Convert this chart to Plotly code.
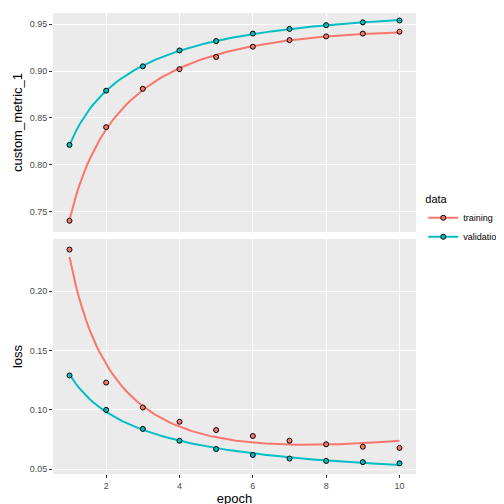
import numpy as np
import plotly.graph_objects as go

epoch = list(range(1, 11))
metric_train = [0.740, 0.840, 0.881, 0.902, 0.915, 0.926, 0.933, 0.937, 0.940, 0.942]
metric_val = [0.821, 0.879, 0.905, 0.922, 0.932, 0.940, 0.945, 0.949, 0.952, 0.954]
loss_train = [0.235, 0.123, 0.102, 0.090, 0.083, 0.078, 0.074, 0.071, 0.069, 0.068]
loss_val = [0.129, 0.100, 0.084, 0.074, 0.067, 0.062, 0.059, 0.057, 0.056, 0.055]

RED = "#F8766D"
CYAN = "#00BFC4"

def smooth(y):
    x = np.log(np.array(epoch, float))
    c = np.polyfit(x, np.array(y), 2)
    xs = np.linspace(1, 10, 100)
    return xs, np.polyval(c, np.log(xs))

fig = go.Figure()
panels = [("y", metric_train, metric_val), ("y2", loss_train, loss_val)]
for i, (ya, tr, va) in enumerate(panels):
    for name, y, col in [("training", tr, RED), ("validation", va, CYAN)]:
        xs, ys = smooth(y)
        fig.add_trace(go.Scatter(x=xs, y=ys, mode="lines", line=dict(color=col, width=2),
                                 yaxis=ya, showlegend=False, hoverinfo="skip"))
        fig.add_trace(go.Scatter(x=epoch, y=y, mode="markers", yaxis=ya,
                                 marker=dict(color=col, size=5, line=dict(color="black", width=1)),
                                 showlegend=False))
for name, col in [("training", RED), ("validation", CYAN)]:
    fig.add_trace(go.Scatter(x=[None], y=[None], mode="lines+markers", name=name,
                             line=dict(color=col, width=2),
                             marker=dict(color=col, size=5, line=dict(color="black", width=1))))

ax = dict(showgrid=True, gridcolor="white", gridwidth=1.2, zeroline=False,
          ticks="outside", ticklen=3, tickcolor="#333", tickfont=dict(size=9, color="#4d4d4d"))
fig.update_layout(
    width=504, height=504, paper_bgcolor="white", plot_bgcolor="#EBEBEB",
    font=dict(family="Liberation Sans, Arial", size=11, color="black"),
    margin=dict(l=45, r=84, t=5, b=38),
    xaxis=dict(range=[0.55, 10.45], tickvals=[2, 4, 6, 8, 10], anchor="y2",
               title=dict(text="epoch", standoff=0), **ax),
    yaxis=dict(domain=[0.525, 1], range=[0.728, 0.962], tickvals=[0.75, 0.80, 0.85, 0.90, 0.95],
               tickformat=".2f", title=dict(text="custom_metric_1", standoff=4), **ax),
    yaxis2=dict(domain=[0, 0.51], range=[0.046, 0.244], tickvals=[0.05, 0.10, 0.15, 0.20],
                tickformat=".2f", title=dict(text="loss", standoff=4), **ax),
    legend=dict(x=1.02, y=0.55, xanchor="left", yanchor="middle", font=dict(size=9),
                title=dict(text="data", font=dict(size=11)), bgcolor="white"),
)
fig.write_html("out.html")
